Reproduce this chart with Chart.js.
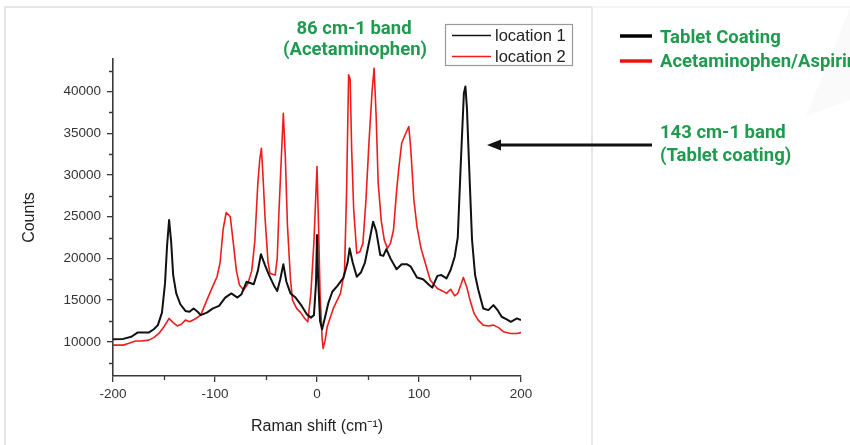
<!DOCTYPE html>
<html>
<head>
<meta charset="utf-8">
<script src="https://cdn.jsdelivr.net/npm/chart.js@4/dist/chart.umd.min.js"></script>
<style>
  html, body { margin: 0; padding: 0; background: #ffffff; }
  #wrap { width: 850px; height: 445px; position: relative; }
</style>
</head>
<body>
<div id="wrap"><canvas id="c" width="850" height="445"></canvas></div>
<script>
// ---------- data ----------
const seriesLabels = ["location 1", "location 2"];
const blackX = [-200,-190,-182,-176,-170,-165,-160,-156,-152,-149,-147,-145,-143,-141,-138,-134,-129,-125,-121,-117,-114,-108,-102,-96,-90,-84,-78,-74,-69,-62,-58,-55,-51,-47,-42,-39,-36,-33,-30,-26,-21,-15,-10,-6,-3,-1,0,1,3,5,8,11,15,20,26,30,32,35,39,43,47,52,55,58,62,65,68,72,78,83,88,92,98,104,110,113,118,122,127,131,135,138,141,144,145.5,147,149,152,155,158,163,168,173,177,181,186,190,196,200];
const blackY = [10300,10350,10600,11100,11100,11100,11500,12000,13500,17000,21500,24600,22000,18000,15800,14500,13700,13600,14000,13600,13200,13500,14000,14300,15300,15800,15300,15700,17200,16900,18500,20500,19200,18000,16700,16100,17500,19300,17200,15800,15300,14300,13300,12900,13200,17000,22800,18000,12500,11500,13000,14600,16000,16700,17700,19500,21200,19500,17800,18300,19500,22500,24400,23300,20400,20300,21100,20000,18700,19300,19300,19000,17700,17500,16800,16500,17900,18000,17600,18600,20200,22500,31500,39800,40600,38000,31500,22200,18000,16300,14000,13800,14400,13800,13000,12700,12400,12800,12600];
const redX = [-200,-190,-185,-178,-172,-165,-160,-155,-150,-145,-141,-137,-133,-129,-125,-120,-114,-108,-102,-98,-95,-92,-89,-85,-82,-79,-76,-72,-68,-64,-61,-58,-56,-54.5,-53,-51,-48,-46,-41,-39,-37.5,-35,-33,-31,-29,-26,-24,-20,-16,-12,-9,-6,-3,-1,0,1.5,3,5,6,8,10,16,23,27,29,31,32.5,34,36,39,42,45,48,51,54,56,58,60,63,66,69,72,75,78,80,83,87,90,92,95,98,102,106,111,115,118,123,127,131,135,138,141,143.5,147,150,154,158,163,168,173,178,183,190,196,200];
const redY = [9600,9600,9800,10100,10100,10200,10500,11000,11800,12800,12300,11900,12100,12600,12400,12700,13200,15000,16700,17800,19500,23500,25500,25000,21800,18500,16800,16200,16900,18500,22000,29000,32000,33200,30000,25000,19500,18200,18000,20000,25000,32000,37400,32000,24000,17500,15000,14000,13500,12800,12400,15800,22000,28000,31000,24000,15800,10500,9200,10200,11800,14000,15800,18500,28000,42000,41500,33000,25800,20600,20800,21800,27000,34000,40000,42800,37000,29000,24500,22200,21200,21800,23400,28000,30600,33800,35000,35800,33000,27000,23800,21200,19500,17400,16800,16400,16100,15800,16300,15500,15800,16800,17700,16500,15000,13400,12600,12000,11900,12000,11700,11200,11000,11000,11100];
const xTicks = [-200,-100,0,100,200];
const xMinorTicks = [-150,-50,50,150];
const yTicks = [10000,15000,20000,25000,30000,35000,40000];
const yMinorTicks = [7500,12500,17500,22500,27500,32500,37500,42500];
const xTitle = "Raman shift (cm\u207B\u00B9)";
const yTitle = "Counts";
const annoTop = ["86 cm-1 band", "(Acetaminophen)"];
const annoRight = ["143 cm-1 band", "(Tablet coating)"];
const keyLabels = ["Tablet Coating", "Acetaminophen/Aspirin"];

// ---------- styling ----------
const GREEN = "#1f9a4f";
const AXIS = "#3a3a3a";
const SERIES_COLORS = ["#111111", "#ee1c1c"];

Chart.defaults.font.family = "'Liberation Sans', Arial, sans-serif";
Chart.defaults.color = "#333";

const toPts = (xs, ys) => xs.map((x, i) => ({x: x, y: ys[i]}));

const decor = {
  id: "decor",
  beforeDraw(chart) {
    const ctx = chart.ctx;
    ctx.save();
    ctx.fillStyle = "#ffffff";
    ctx.fillRect(0, 0, chart.width, chart.height);
    // very faint watermark shape on the right
    ctx.fillStyle = "#fafafa";
    ctx.beginPath();
    ctx.moveTo(850, 8);
    ctx.lineTo(806, 116);
    ctx.lineTo(850, 100);
    ctx.closePath();
    ctx.fill();
    // frame of the original figure
    ctx.strokeStyle = "#dedede";
    ctx.lineWidth = 1.5;
    ctx.beginPath();
    ctx.moveTo(5, 450);
    ctx.lineTo(5, 7);
    ctx.lineTo(592, 7);
    ctx.lineTo(592, 450);
    ctx.stroke();
    ctx.strokeStyle = "#f2f2f2";
    ctx.beginPath();
    ctx.moveTo(592, 7);
    ctx.lineTo(850, 7);
    ctx.stroke();
    ctx.restore();
  },
  afterDraw(chart) {
    const ctx = chart.ctx;
    const xs = chart.scales.x, ys = chart.scales.y;
    ctx.save();
    // minor ticks
    ctx.strokeStyle = AXIS;
    ctx.lineWidth = 1.3;
    ctx.beginPath();
    xMinorTicks.forEach(v => {
      const px = Math.round(xs.getPixelForValue(v)) + 0.5;
      ctx.moveTo(px, xs.top);
      ctx.lineTo(px, xs.top + 4);
    });
    yMinorTicks.forEach(v => {
      const py = Math.round(ys.getPixelForValue(v)) + 0.5;
      ctx.moveTo(ys.right, py);
      ctx.lineTo(ys.right - 4, py);
    });
    ctx.stroke();

    // in-plot legend box
    const bx = 445, by = 24, bw = 127, bh = 41;
    ctx.strokeStyle = "#9a9a9a";
    ctx.lineWidth = 1.2;
    ctx.strokeRect(bx + 0.5, by + 0.5, bw, bh);
    ctx.font = "16.5px 'Liberation Sans', Arial, sans-serif";
    ctx.textBaseline = "middle";
    ctx.textAlign = "left";
    chart.data.datasets.forEach((ds, i) => {
      const ly = by + 11.5 + i * 21;
      ctx.strokeStyle = ds.borderColor;
      ctx.lineWidth = 1.6;
      ctx.beginPath();
      ctx.moveTo(452, ly);
      ctx.lineTo(491, ly);
      ctx.stroke();
      ctx.fillStyle = "#222";
      ctx.fillText(ds.label, 495, ly + 0.5);
    });

    // green annotations
    ctx.fillStyle = GREEN;
    ctx.font = "bold 18.5px Roboto, 'Noto Sans', sans-serif";
    ctx.textAlign = "center";
    ctx.fillText(annoTop[0], 354, 29);
    ctx.fillText(annoTop[1], 355, 50);
    ctx.textAlign = "left";
    ctx.fillText(keyLabels[0], 660, 38);
    ctx.fillText(keyLabels[1], 660, 62);
    ctx.fillText(annoRight[0], 660, 133);
    ctx.fillText(annoRight[1], 660, 156);

    // key lines on the right
    ctx.lineWidth = 3.5;
    [36, 61].forEach((yy, i) => {
      ctx.strokeStyle = i === 0 ? "#000" : "#ee1111";
      ctx.beginPath();
      ctx.moveTo(620, yy);
      ctx.lineTo(652, yy);
      ctx.stroke();
    });

    // arrow pointing at the 143 cm-1 band
    ctx.strokeStyle = "#111";
    ctx.fillStyle = "#111";
    ctx.lineWidth = 3;
    ctx.beginPath();
    ctx.moveTo(652, 145);
    ctx.lineTo(498, 145);
    ctx.stroke();
    ctx.beginPath();
    ctx.moveTo(487, 145);
    ctx.lineTo(501, 139.5);
    ctx.lineTo(501, 150.5);
    ctx.closePath();
    ctx.fill();
    ctx.restore();
  }
};

new Chart(document.getElementById("c"), {
  type: "line",
  data: {
    datasets: [
      { label: seriesLabels[0], data: toPts(blackX, blackY), borderColor: SERIES_COLORS[0], borderWidth: 2, pointRadius: 0, tension: 0, fill: false, borderJoinStyle: "round" },
      { label: seriesLabels[1], data: toPts(redX, redY), borderColor: SERIES_COLORS[1], borderWidth: 1.6, pointRadius: 0, tension: 0, fill: false, borderJoinStyle: "round" }
    ]
  },
  options: {
    responsive: false,
    animation: false,
    events: [],
    layout: { padding: { left: 0, top: 59, right: 329, bottom: 0 } },
    plugins: { legend: { display: false }, tooltip: { enabled: false } },
    scales: {
      x: {
        type: "linear",
        min: -200, max: 200,
        afterFit(s) { s.height = 69; },
        afterBuildTicks(s) { s.ticks = xTicks.map(v => ({value: v})); },
        grid: { display: true, drawOnChartArea: false, drawTicks: true, tickLength: 6, color: AXIS, lineWidth: 1.3 },
        border: { display: true, color: AXIS, width: 1.6 },
        ticks: { font: { size: 13.5 }, color: "#333", padding: 4, maxRotation: 0 },
        title: { display: true, text: xTitle, font: { size: 16 }, color: "#222", padding: { top: 0, bottom: 9 } }
      },
      y: {
        type: "linear",
        min: 5900, max: 43900,
        afterFit(s) { s.width = 113; },
        afterBuildTicks(s) { s.ticks = yTicks.map(v => ({value: v})); },
        grid: { display: true, drawOnChartArea: false, drawTicks: true, tickLength: 6, color: AXIS, lineWidth: 1.3 },
        border: { display: true, color: AXIS, width: 1.6 },
        ticks: { font: { size: 13.5 }, color: "#333", padding: 6, callback: v => String(v) },
        title: { display: true, text: yTitle, font: { size: 16 }, color: "#222", padding: { top: 20, bottom: 0 } }
      }
    }
  },
  plugins: [decor]
});
</script>
</body>
</html>
